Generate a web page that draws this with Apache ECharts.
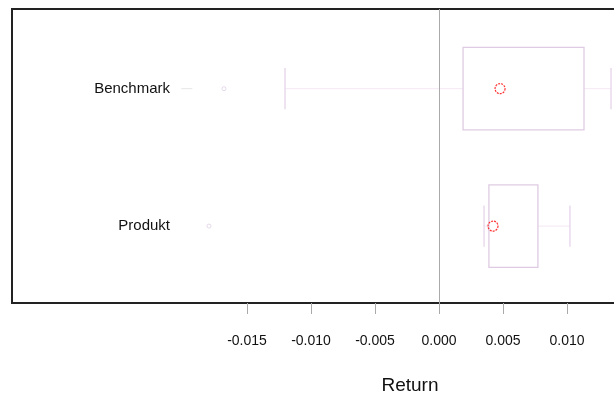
<!DOCTYPE html>
<html>
<head>
<meta charset="utf-8">
<script src="https://cdn.jsdelivr.net/npm/echarts@6/dist/echarts.min.js"></script>
<style>html,body{margin:0;padding:0;background:#fff;overflow:hidden;width:614px;height:396px;}#wrap{width:614px;height:396px;overflow:hidden;}#c{width:820px;height:396px;}</style>
</head>
<body>
<div id="wrap"><div id="c"></div></div>
<script>
// categories (y positions 1 and 2)
const categories = ['Produkt', 'Benchmark'];
const lowWhisker = [0.00352, -0.01203];
const q1 = [0.00390, 0.00188];
const q3 = [0.00773, 0.01133];
const highWhisker = [0.01023, 0.01344];
const means = [0.00422, 0.00477];
const outlierValues = [-0.01797, -0.01680];
const outlierCats = [1, 2];
const dashOutlierValues = [-0.01970];
const dashOutlierCats = [2];
const xTicks = [-0.015, -0.010, -0.005, 0.000, 0.005, 0.010, 0.015, 0.020, 0.025];

const boxData = categories.map((c, i) => [i + 1, lowWhisker[i], q1[i], q3[i], highWhisker[i]]);
const meanData = categories.map((c, i) => [means[i], i + 1]);
const outData = outlierValues.map((v, i) => [v, outlierCats[i]]);
const dashData = dashOutlierValues.map((v, i) => [v, dashOutlierCats[i]]);

const chart = echarts.init(document.getElementById('c'), null, {renderer: 'canvas'});
const option = {
  animation: false,
  backgroundColor: '#fff',
  grid: {left: 12, top: 9, right: 12, bottom: 93, outerBoundsMode: 'none', containLabel: false,
    show: true, borderColor: '#222', borderWidth: 2, backgroundColor: 'transparent'},
  xAxis: {
    type: 'value', min: -0.03336, max: 0.02883,
    axisLine: {show: false},
    splitLine: {show: false},
    axisTick: {show: true, customValues: xTicks, length: 11, lineStyle: {color: '#aaa', width: 1}},
    axisLabel: {customValues: xTicks, margin: 31, fontFamily: 'Liberation Sans', fontSize: 14, color: '#111',
      formatter: v => (Math.abs(v) < 1e-12 ? 0 : v).toFixed(3)},
    name: 'Return', nameLocation: 'middle', nameGap: 73,
    nameTextStyle: {fontFamily: 'Liberation Sans', fontSize: 19, color: '#111'}
  },
  yAxis: {
    type: 'value', min: 0.44, max: 2.58, offset: -166,
    axisLine: {show: false}, axisTick: {show: false}, splitLine: {show: false},
    axisLabel: {customValues: [1, 2], margin: 8, fontFamily: 'Liberation Sans', fontSize: 15, color: '#111',
      formatter: v => categories[Math.round(v) - 1] || ''}
  },
  series: [
    {
      type: 'custom',
      data: boxData,
      encode: {x: [1, 2, 3, 4], y: 0},
      renderItem: function (params, api) {
        const y = api.value(0);
        const pLow = api.coord([api.value(1), y]);
        const pQ1 = api.coord([api.value(2), y]);
        const pQ3 = api.coord([api.value(3), y]);
        const pHigh = api.coord([api.value(4), y]);
        const hb = api.size([0, 0.3])[1];
        const hc = api.size([0, 0.15])[1];
        const wStyle = {stroke: '#f3e8f3', lineWidth: 1, fill: null};
        const cStyle = {stroke: '#e6d4ea', lineWidth: 1.3, fill: null};
        return {
          type: 'group',
          children: [
            {type: 'line', shape: {x1: pLow[0], y1: pLow[1], x2: pQ1[0], y2: pQ1[1]}, style: wStyle},
            {type: 'line', shape: {x1: pQ3[0], y1: pQ3[1], x2: pHigh[0], y2: pHigh[1]}, style: wStyle},
            {type: 'line', shape: {x1: pLow[0], y1: pLow[1] - hc, x2: pLow[0], y2: pLow[1] + hc}, style: cStyle},
            {type: 'line', shape: {x1: pHigh[0], y1: pHigh[1] - hc, x2: pHigh[0], y2: pHigh[1] + hc}, style: cStyle},
            {type: 'rect', shape: {x: pQ1[0], y: pQ1[1] - hb, width: pQ3[0] - pQ1[0], height: 2 * hb},
              style: {stroke: '#dfcbe3', lineWidth: 1.3, fill: null}}
          ]
        };
      },
      markLine: {
        silent: true, symbol: 'none', label: {show: false},
        lineStyle: {color: '#aaa', width: 1, type: 'solid'},
        data: [{xAxis: 0}]
      },
      z: 2
    },
    {
      type: 'scatter', data: outData, symbol: 'circle', symbolSize: 4,
      itemStyle: {color: '#fff', borderColor: '#e0d0e6', borderWidth: 1}, z: 3
    },
    {
      type: 'custom', data: dashData,
      renderItem: function (params, api) {
        const p = api.coord([api.value(0), api.value(1)]);
        return {type: 'line', shape: {x1: p[0] - 5.5, y1: p[1], x2: p[0] + 5.5, y2: p[1]},
          style: {stroke: '#e6e6e6', lineWidth: 1}};
      }, z: 3
    },
    {
      type: 'scatter', data: meanData, symbol: 'circle', symbolSize: 10,
      itemStyle: {color: 'rgba(255,255,255,0)', borderColor: '#ff0000', borderWidth: 1.2, borderType: [2, 1]}, z: 4
    }
  ]
};
chart.setOption(option);
</script>
</body>
</html>
